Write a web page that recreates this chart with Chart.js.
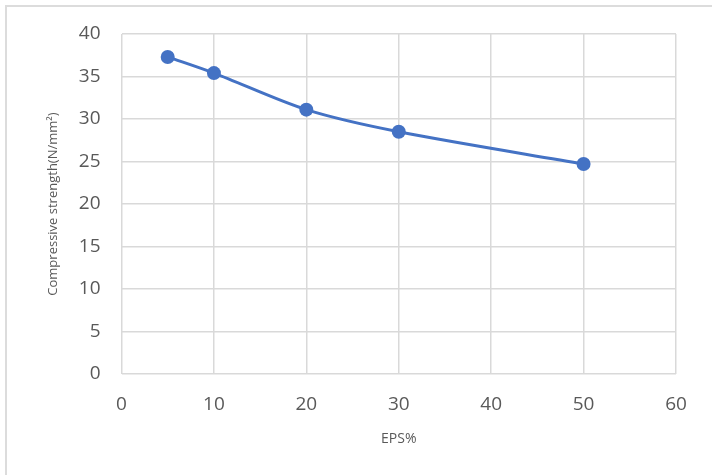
<!DOCTYPE html>
<html lang="en">
<head>
  <meta charset="UTF-8" />
  <title>Compressive strength vs EPS%</title>
  <script src="https://cdn.jsdelivr.net/npm/chart.js"></script>
  <style>
    html, body { margin: 0; padding: 0; background: #fff; }
    #wrap { position: relative; width: 712px; height: 475px; overflow: hidden; }
    #frame {
      position: absolute; left: 5px; top: 5px; width: 720px; height: 480px;
      border-left: 2px solid #dcdcdc; border-top: 2px solid #dcdcdc;
    }
    canvas { position: absolute; left: 0; top: 0; }
  </style>
</head>
<body>
  <div id="wrap">
    <div id="frame"></div>
    <canvas id="chart" width="712" height="475"></canvas>
  </div>

  <script>
    // data
    const epsPercent = [5, 10, 20, 30, 50];
    const strength = [37.3, 35.4, 31.1, 28.5, 24.7];

    const xTitle = 'EPS%';
    const yTitle = 'Compressive strength(N/mm\u00B2)';

    const tickColor = '#595959';
    const gridColor = '#d9d9d9';
    const lineColor = '#4472c4';
    const fontFamily = '"Open Sans", "DejaVu Sans", sans-serif';

    const points = epsPercent.map((x, i) => ({ x: x, y: strength[i] }));

    new Chart(document.getElementById('chart'), {
      type: 'line',
      data: {
        datasets: [{
          data: points,
          borderColor: lineColor,
          backgroundColor: lineColor,
          borderWidth: 3,
          pointRadius: 7,
          pointHoverRadius: 7,
          pointBorderWidth: 0,
          tension: 0.3,
          fill: false
        }]
      },
      options: {
        responsive: false,
        animation: false,
        layout: { padding: { top: 34, right: 36, left: 45, bottom: 28 } },
        plugins: { legend: { display: false }, tooltip: { enabled: false } },
        scales: {
          x: {
            type: 'linear',
            min: 0, max: 60,
            border: { display: false },
            grid: { color: gridColor, lineWidth: 1.5, drawTicks: false },
            ticks: { stepSize: 10, color: tickColor, padding: 19, font: { family: fontFamily, size: 19 } },
            title: {
              display: true, text: xTitle, color: tickColor,
              padding: { top: 12, bottom: 0 },
              font: { family: fontFamily, size: 14 }
            },
            afterFit: (scale) => { scale.height = 475 - 374 - 28; }
          },
          y: {
            min: 0, max: 40,
            border: { display: false },
            grid: { color: gridColor, lineWidth: 1.5, drawTicks: false },
            ticks: { stepSize: 5, color: tickColor, padding: 21, font: { family: fontFamily, size: 19 } },
            title: {
              display: true, text: yTitle, color: tickColor,
              padding: 0,
              font: { family: fontFamily, size: 13 }
            },
            afterFit: (scale) => { scale.width = 121.5 - 45; }
          }
        }
      }
    });
  </script>
</body>
</html>
